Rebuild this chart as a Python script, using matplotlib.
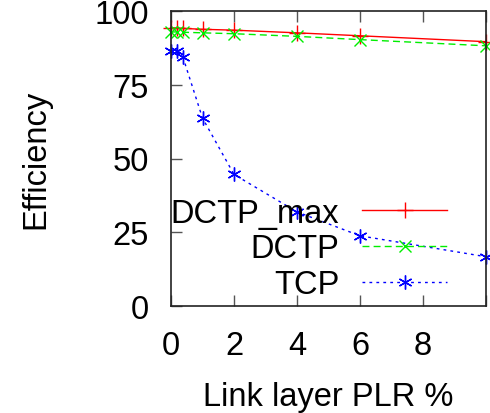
import matplotlib
matplotlib.use("Agg")
import matplotlib.pyplot as plt

plr = [0, 0.18, 0.38, 1, 2, 4, 6, 10]
dctp_max = [94.3, 94.2, 94.1, 93.8, 93.5, 92.6, 91.6, 89.6]
dctp = [92.9, 92.9, 92.8, 92.6, 92.3, 91.4, 90.3, 88.2]
tcp = [86.4, 86.3, 84.3, 63.7, 44.6, 31.9, 23.8, 16.7]
xticks = [0, 2, 4, 6, 8]
yticks = [0, 25, 50, 75, 100]

plt.rcParams['font.family'] = ['Liberation Sans', 'DejaVu Sans']
fs = 23.5

fig = plt.figure(figsize=(4.9, 4.14), dpi=100)
ax = fig.add_axes([171/490, 1-307/414, (486-171)/490, (307-12)/414])

ax.plot(plr, dctp_max, color='#ff0000', lw=1, marker='+', ms=11, mew=1,
        label='DCTP_max', clip_on=False)
ax.plot(plr, dctp, color='#00ee00', lw=1, ls=(0, (5, 3)), marker='x', ms=8, mew=1,
        label='DCTP', clip_on=False)
ax.plot(plr, tcp, color='#0000ff', lw=1, ls=(0, (2, 3)), marker=(6, 2, 0), ms=10, mew=1,
        label='TCP', clip_on=False)

ax.set_xlim(0, 10)
ax.set_ylim(0, 100)
ax.set_xticks(xticks + [10])
ax.set_xticklabels([str(t) for t in xticks] + [''])
ax.set_yticks(yticks)
ax.set_yticklabels([str(t) for t in yticks])
ax.tick_params(axis='x', direction='in', length=8, width=1, top=True, labelsize=fs, pad=17, color='#555555')
ax.tick_params(axis='y', direction='in', length=8, width=1, right=False, labelsize=fs, pad=16, color='#555555')
for s in ax.spines.values():
    s.set_linewidth(1.2)
    s.set_color('#222222')

ax.set_xlabel('Link layer PLR %', fontsize=fs, va='center')
ax.xaxis.set_label_coords(0.5, -(398-307)/295)
ax.set_ylabel('Efficiency', fontsize=fs, va='center')
ax.yaxis.set_label_coords((36-171)/315, 0.5)

leg = ax.legend(loc='center right', bbox_to_anchor=((447-171)/315, (307-250)/295),
                frameon=False, markerfirst=False, fontsize=fs, handlelength=2.6,
                handletextpad=0.7, labelspacing=0.15, borderpad=0, borderaxespad=0)

fig.savefig('out.png', dpi=100)
